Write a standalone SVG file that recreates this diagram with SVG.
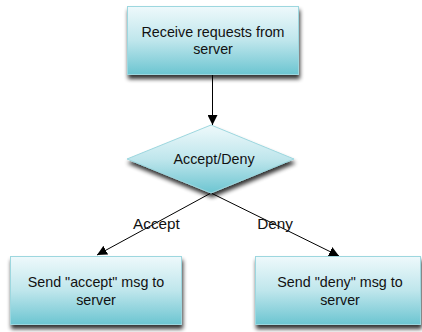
<svg xmlns="http://www.w3.org/2000/svg" width="422" height="332" viewBox="0 0 422 332">
  <defs>
    <linearGradient id="fill" x1="0" y1="0" x2="0" y2="1">
      <stop offset="0" stop-color="#eef9fb"/>
      <stop offset="0.5" stop-color="#bfe6ec"/>
      <stop offset="1" stop-color="#6cc5d1"/>
    </linearGradient>
    <filter id="shadow" x="-20%" y="-20%" width="140%" height="150%">
      <feGaussianBlur in="SourceAlpha" stdDeviation="2.2"/>
      <feOffset dx="1" dy="4" result="b"/>
      <feComponentTransfer><feFuncA type="linear" slope="0.8"/></feComponentTransfer>
      <feMerge><feMergeNode/><feMergeNode in="SourceGraphic"/></feMerge>
    </filter>
    <marker id="arrow" viewBox="0 0 10 10" refX="10" refY="5" markerWidth="10" markerHeight="10" markerUnits="userSpaceOnUse" orient="auto">
      <path d="M0,0 L10,5 L0,10 Z" fill="#000"/>
    </marker>
  </defs>
  <style>
    .shape { fill: url(#fill); stroke: #9dd7df; stroke-width: 1; filter: url(#shadow); }
    .label { font-family: "Liberation Sans", Arial, sans-serif; font-size: 14.3px; fill: #111; text-anchor: middle; }
    .edge-label { font-family: "Liberation Sans", Arial, sans-serif; font-size: 15.3px; fill: #111; text-anchor: middle; }
    .edge { stroke: #000; stroke-width: 1; fill: none; marker-end: url(#arrow); }
  </style>

  <g id="connectors">
    <line class="edge" x1="212.5" y1="75" x2="212.5" y2="125"/>
    <line class="edge" x1="211" y1="193" x2="97" y2="255"/>
    <line class="edge" x1="211" y1="193" x2="339" y2="256"/>
    <text class="edge-label" x="156.5" y="229">Accept</text>
    <text class="edge-label" x="275" y="229">Deny</text>
  </g>

  <g id="receive">
    <rect class="shape" x="127.5" y="6.5" width="171" height="68"/>
    <text class="label" x="213" y="37">Receive requests from</text>
    <text class="label" x="213" y="54">server</text>
  </g>

  <g id="decision">
    <polygon class="shape" points="127,159 211,125 294,159 211,193"/>
    <text class="label" x="214" y="164">Accept/Deny</text>
  </g>

  <g id="send-accept">
    <rect class="shape" x="10.5" y="256.5" width="171" height="68"/>
    <text class="label" x="96" y="287">Send "accept" msg to</text>
    <text class="label" x="96" y="305">server</text>
  </g>

  <g id="send-deny">
    <rect class="shape" x="255.5" y="256.5" width="165" height="68"/>
    <text class="label" x="340" y="287">Send "deny" msg to</text>
    <text class="label" x="340" y="305">server</text>
  </g>
</svg>
